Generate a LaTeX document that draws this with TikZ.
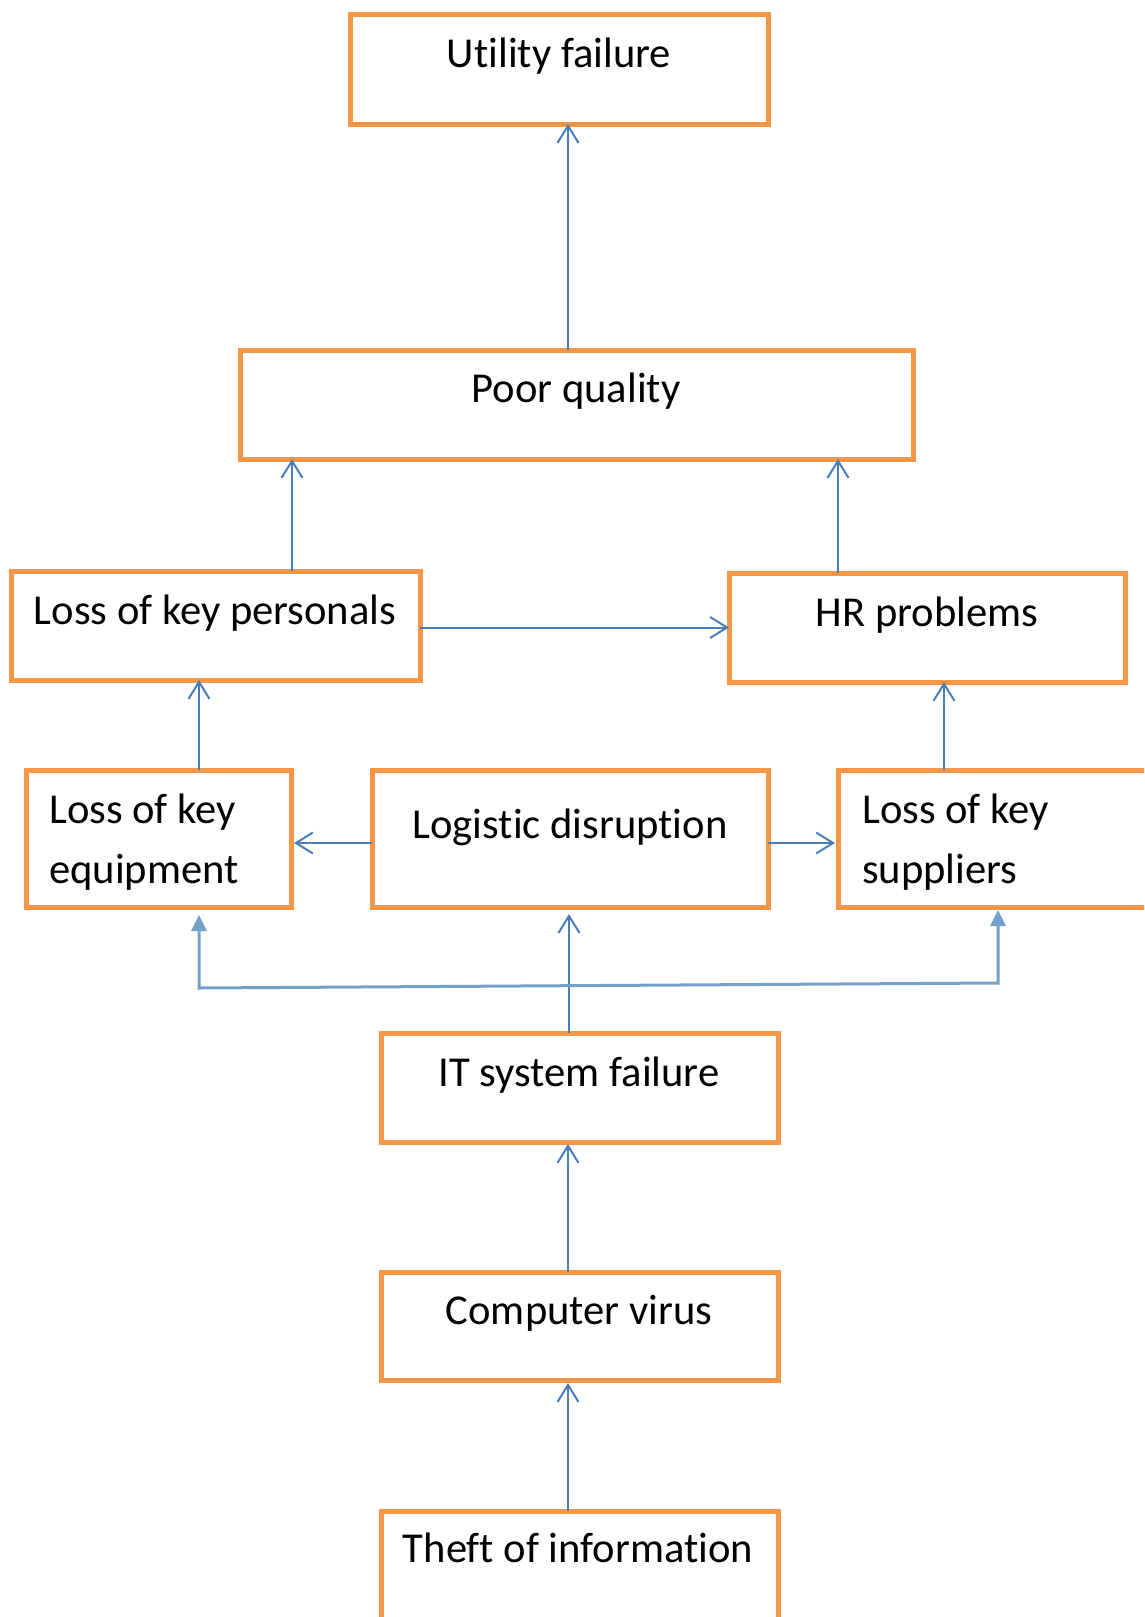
\documentclass[tikz,border=0pt]{standalone}
\usepackage{fontspec}
\setmainfont{Carlito}[Ligatures={NoCommon,NoContextual,NoRare},Contextuals=NoAlternate]
\usetikzlibrary{arrows.meta}
\definecolor{boxorange}{HTML}{F79646}
\definecolor{linkblue}{HTML}{4A7EBB}
\definecolor{forkblue}{HTML}{739FC9}
% zero kern that keeps two letters from joining into a ligature
\newcommand{\nolig}{\kern0pt{}}
\tikzset{
  box/.style={draw=boxorange, line width=5pt, fill=none, inner sep=0pt, outer sep=0pt},
  lbl/.style={inner sep=0pt, anchor=base, font=\fontsize{42.6}{50}\selectfont},
  lblw/.style={lbl, anchor=base west},
  link/.style={draw=linkblue, line width=2pt, -{Straight Barb[length=17pt,width=21pt,line width=2pt]}},
  fork/.style={draw=forkblue, line width=3pt, line join=miter,
    {Triangle[length=16pt,width=15pt]}-{Triangle[length=16pt,width=15pt]}}
}
\begin{document}
\begin{tikzpicture}[x=1pt,y=-1pt]
\useasboundingbox (0,0) rectangle (1144,1617);
\clip (0,0) rectangle (1144,1617);

% boxes
\node[box, minimum width=418pt, minimum height=110pt] (uf)  at (559,69) {};
\node[box, minimum width=673pt, minimum height=109pt] (pq)  at (576.5,404.5) {};
\node[box, minimum width=409pt, minimum height=109pt] (lkp) at (215.5,625.5) {};
\node[box, minimum width=396pt, minimum height=109pt] (hr)  at (927,627.5) {};
\node[box, minimum width=265pt, minimum height=137pt] (lke) at (158.5,838.5) {};
\node[box, minimum width=396pt, minimum height=137pt] (ld)  at (570,838.5) {};
\node[box, minimum width=322pt, minimum height=137pt] (lks) at (999,838.5) {};
\node[box, minimum width=397pt, minimum height=109pt] (it)  at (579.5,1087.5) {};
\node[box, minimum width=397pt, minimum height=108pt] (cv)  at (579.5,1326) {};
\node[box, minimum width=397pt, minimum height=108pt] (toi) at (579.5,1565) {};

% labels
\node[lbl]  (t-uf)   at (559,67)   {Ut\nolig ility failure};
\node[lbl]  (t-pq)   at (576,402)  {Poor quality};
\node[lbl]  (t-lkp)  at (215,624)  {Loss of key personals};
\node[lbl]  (t-hr)   at (927,626)  {HR problems};
\node[lblw] (t-lke1) at (49,823)   {Loss of key};
\node[lblw] (t-lke2) at (49,883)   {equipment};
\node[lbl]  (t-ld)   at (570,838)  {Logist\nolig ic disrupt\nolig ion};
\node[lblw] (t-lks1) at (862,823)  {Loss of key};
\node[lblw] (t-lks2) at (862,883)  {suppliers};
\node[lbl]  (t-it)   at (579,1086) {IT system failure};
\node[lbl]  (t-cv)   at (579,1324) {Computer virus};
\node[lbl]  (t-toi)  at (578,1562) {Thef\nolig t of informat\nolig ion};

% connectors
\draw[link] ([xshift=-8.5pt]pq.north) -- ([xshift=9pt]uf.south);
\draw[link] ([xshift=76.5pt]lkp.north) -- ([xshift=-284.5pt]pq.south);
\draw[link] ([xshift=-89pt]hr.north) -- ([xshift=261.5pt]pq.south);
\draw[link] (lkp.east |- hr.west) -- (hr.west);
\draw[link] ([xshift=40.5pt]lke.north) -- ([xshift=-16.5pt]lkp.south);
\draw[link] ([xshift=-55pt]lks.north) -- ([xshift=17pt]hr.south);
\draw[link] ([yshift=-4.5pt]ld.west) -- ([yshift=-4.5pt,xshift=3pt]lke.east);
\draw[link] ([yshift=-4.5pt]ld.east) -- ([yshift=-4.5pt,xshift=-3pt]lks.west);
\draw[link] ([xshift=-10.5pt]it.north) -- ([xshift=-1pt,yshift=-7pt]ld.south);
\draw[link] ([xshift=-11.5pt]cv.north) -- ([xshift=-11.5pt,yshift=-2pt]it.south);
\draw[link] ([xshift=-11.5pt]toi.north) -- ([xshift=-11.5pt,yshift=-3pt]cv.south);

% fork from the IT line to both side boxes
\coordinate (fl) at (199,988);
\coordinate (fr) at (998,983);
\draw[fork] ([xshift=40.5pt,yshift=-8pt]lke.south) -- (fl) -- (fr) -- ([xshift=-1pt,yshift=-3pt]lks.south);
\end{tikzpicture}
\end{document}
